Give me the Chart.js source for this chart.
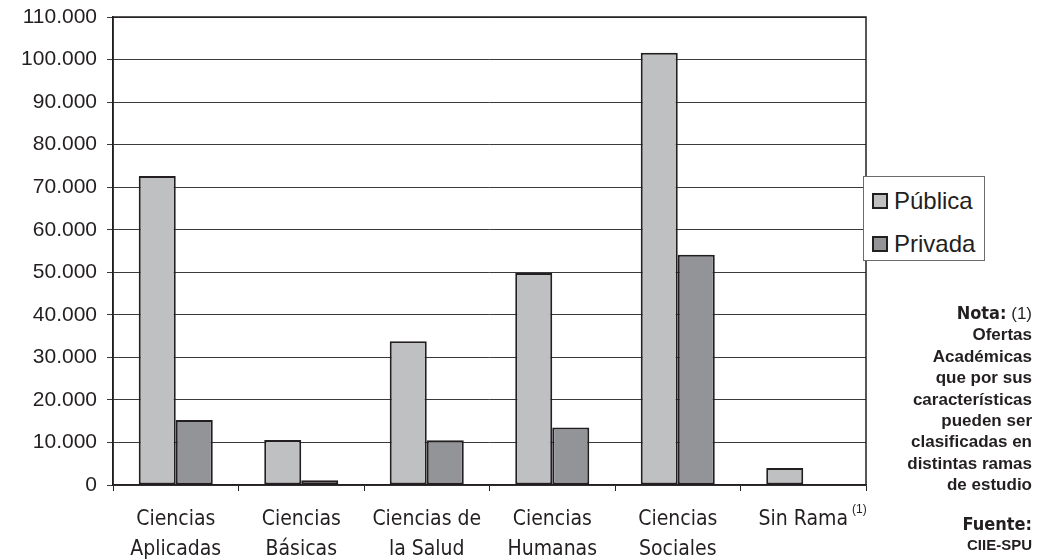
<!DOCTYPE html>
<html>
<head>
<meta charset="utf-8">
<script src="https://cdn.jsdelivr.net/npm/chart.js@4.4.1/dist/chart.umd.min.js"></script>
<style>
  html, body { margin: 0; padding: 0; background: #fff; }
  #wrap { position: relative; width: 1052px; height: 560px; }
  #c { position: absolute; left: 0; top: 0; }
  #legend { position: absolute; left: 863px; top: 176px; width: 122px; height: 85px;
    border: 1px solid #6b6b6b; background: #fff; font-family: "Liberation Sans", Arial, sans-serif;
    font-size: 24px; color: #231f20; box-sizing: border-box; }
  #legend .it { position: absolute; left: 8px; height: 28px; line-height: 28px; white-space: nowrap; }
  #legend .sw { display: inline-block; width: 12px; height: 12px; border: 2px solid #231f20;
    vertical-align: middle; margin-right: 6px; position: relative; top: -2px; }
  #notes { position: absolute; right: 20px; top: 302px; text-align: right; color: #231f20;
    font-family: "Liberation Sans Narrow", "Arial Narrow", sans-serif; font-weight: bold;
    font-size: 17px; line-height: 21.4px; }
  #notes .h { font-family: "DejaVu Sans", sans-serif; font-stretch: condensed; font-weight: 900; font-size: 18px; }
  #notes .r { font-family: "Liberation Sans", sans-serif; font-weight: normal; font-size: 17px; }
  #sup { position: absolute; font-family: "Liberation Sans", Arial, sans-serif; font-size: 12px; color: #231f20; }
</style>
</head>
<body>
<div id="wrap">
  <canvas id="c" width="1052" height="560"></canvas>
  <div id="legend"></div>
  <div id="notes">
    <div><span class="h">Nota:</span> <span class="r">(1)</span></div>
    <div>Ofertas</div>
    <div>Académicas</div>
    <div>que por sus</div>
    <div>características</div>
    <div>pueden ser</div>
    <div>clasificadas en</div>
    <div>distintas ramas</div>
    <div>de estudio</div>
    <div style="height:17px"></div>
    <div><span class="h">Fuente:</span></div>
    <div style="font-size:15px;line-height:19px">CIIE-SPU</div>
  </div>
  <div id="sup">(1)</div>
</div>
<script>
const categories = [
  ["Ciencias", "Aplicadas"],
  ["Ciencias", "Básicas"],
  ["Ciencias de", "la Salud"],
  ["Ciencias", "Humanas"],
  ["Ciencias", "Sociales"],
  "Sin Rama"
];
const seriesNames = ["Pública", "Privada"];
const publica = [72600, 10600, 33800, 49800, 101600, 4000];
const privada = [15300, 1100, 10500, 13500, 54100, 0];
const yTicksMax = 110000;
const yTicksStep = 10000;

const colors = ["#bfc0c2", "#929497"];
const borderColor = "#231f20";
const xFont = '"DejaVu Sans Condensed", "Liberation Sans", sans-serif';

Chart.defaults.font.family = '"Liberation Sans", Arial, sans-serif';
Chart.defaults.color = "#231f20";

const frame = {
  id: "frame",
  afterDatasetsDraw(chart) {
    const a = chart.chartArea, ctx = chart.ctx;
    ctx.save();
    ctx.strokeStyle = borderColor;
    ctx.lineWidth = 1.5;
    ctx.beginPath();
    ctx.moveTo(a.left, a.bottom);
    ctx.lineTo(a.left, a.top);
    ctx.lineTo(a.right, a.top);
    ctx.lineTo(a.right, a.bottom);
    ctx.stroke();
    ctx.restore();
  }
};

const chart = new Chart(document.getElementById("c"), {
  type: "bar",
  data: {
    labels: categories,
    datasets: [
      { label: seriesNames[0], data: publica, backgroundColor: colors[0], borderColor: borderColor, borderWidth: 2, borderSkipped: false },
      { label: seriesNames[1], data: privada, backgroundColor: colors[1], borderColor: borderColor, borderWidth: 2, borderSkipped: false }
    ]
  },
  options: {
    responsive: false,
    animation: false,
    devicePixelRatio: 1,
    layout: { padding: { top: 17, right: 186, bottom: 0, left: 0 } },
    plugins: { legend: { display: false }, tooltip: { enabled: false } },
    datasets: { bar: { categoryPercentage: 0.59, barPercentage: 1.0 } },
    scales: {
      x: {
        afterFit(s) { s.height = 75; s.paddingLeft = 0; s.paddingRight = 0; },
        grid: { drawOnChartArea: false, drawTicks: true, tickLength: 6, color: "#231f20", lineWidth: 1 },
        border: { color: "#231f20", width: 1.5 },
        ticks: { font: { family: xFont, size: 21, lineHeight: 1.45 }, padding: 13, maxRotation: 0, autoSkip: false, color: "#231f20" }
      },
      y: {
        min: 0, max: yTicksMax,
        afterFit(s) { s.width = 113; s.paddingTop = 0; s.paddingBottom = 0; },
        grid: { color: "#3a3a3a", lineWidth: 1, tickLength: 6 },
        border: { color: "#231f20", width: 1.5 },
        ticks: {
          stepSize: yTicksStep, padding: 10, font: { size: 21 }, color: "#231f20",
          callback: v => v.toString().replace(/\B(?=(\d{3})+(?!\d))/g, ".")
        }
      }
    }
  },
  plugins: [frame]
});

// HTML legend built from datasets
const lg = document.getElementById("legend");
chart.data.datasets.forEach((ds, i) => {
  const d = document.createElement("div");
  d.className = "it";
  d.style.top = (10 + i * 43) + "px";
  d.innerHTML = '<span class="sw" style="background:' + ds.backgroundColor + '"></span>' + ds.label;
  lg.appendChild(d);
});

// superscript after "Sin Rama"
const xs = chart.scales.x;
const ctx = chart.ctx;
ctx.save();
ctx.font = '21px ' + xFont;
const w = ctx.measureText("Sin Rama").width;
ctx.restore();
const sup = document.getElementById("sup");
sup.style.left = (xs.getPixelForValue(5) + w / 2 + 4) + "px";
sup.style.top = "502px";
</script>
</body>
</html>
